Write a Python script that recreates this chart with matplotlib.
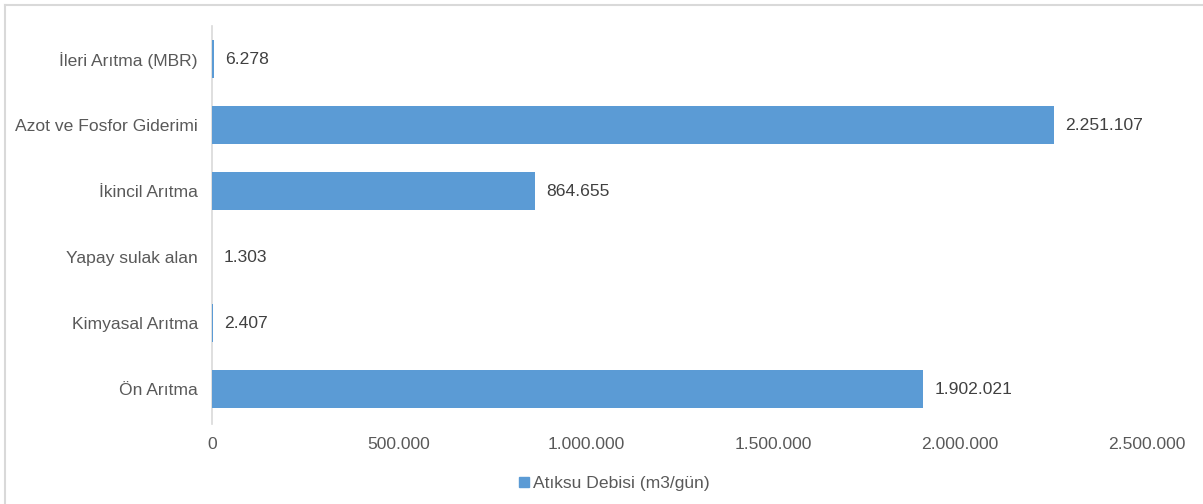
import matplotlib.pyplot as plt
from matplotlib.lines import Line2D
from matplotlib.patches import Patch

categories = ["İleri Arıtma (MBR)", "Azot ve Fosfor Giderimi", "İkincil Arıtma",
              "Yapay sulak alan", "Kimyasal Arıtma", "Ön Arıtma"]
values = [6278, 2251107, 864655, 1303, 2407, 1902021]
series_name = "Atıksu Debisi (m3/gün)"
xticks = [0, 500000, 1000000, 1500000, 2000000, 2500000]

plt.rcParams['font.family'] = ['Liberation Sans', 'DejaVu Sans']

def fmt(v):
    return "{:,}".format(v).replace(",", ".")

bar_color = '#5B9BD5'
fs = 12.6
fig = plt.figure(figsize=(12.03, 5.04), dpi=100)
ax = fig.add_axes([0.1762, 0.1587, 0.9535 - 0.1762, 0.9484 - 0.1587])

ypos = list(range(len(categories)))[::-1]
ax.barh(ypos, values, height=0.58, color=bar_color, zorder=3)
for y, v in zip(ypos, values):
    ax.text(v + 30000, y, fmt(v), va='center', ha='left', fontsize=fs, color='#404040')

ax.set_yticks(ypos)
ax.set_yticklabels(categories, fontsize=fs, color='#595959')
ax.set_xticks(xticks)
ax.set_xticklabels([fmt(t) for t in xticks], fontsize=fs, color='#595959')
ax.set_xlim(0, 2500000)
ax.set_ylim(-0.53, 5.5)
ax.tick_params(axis='both', length=0)
ax.tick_params(axis='x', pad=9)
ax.tick_params(axis='y', pad=10)
for s in ['top', 'right', 'bottom']:
    ax.spines[s].set_visible(False)
ax.spines['left'].set_color('#D9D9D9')
ax.spines['left'].set_linewidth(1.2)

fig.legend(handles=[Patch(color=bar_color)], labels=[series_name],
           loc='center', bbox_to_anchor=(0.511, 0.040), frameon=False,
           fontsize=fs, handlelength=0.55, handleheight=0.55, handletextpad=0.25,
           labelcolor='#595959')

# outer chart border (only top and left visible in the reference)
fig.add_artist(Line2D([0.004, 1.0], [0.990, 0.990], transform=fig.transFigure, color='#D9D9D9', lw=1.5))
fig.add_artist(Line2D([0.004, 0.004], [0.0, 0.990], transform=fig.transFigure, color='#D9D9D9', lw=1.5))

fig.savefig('out.png', dpi=100)
